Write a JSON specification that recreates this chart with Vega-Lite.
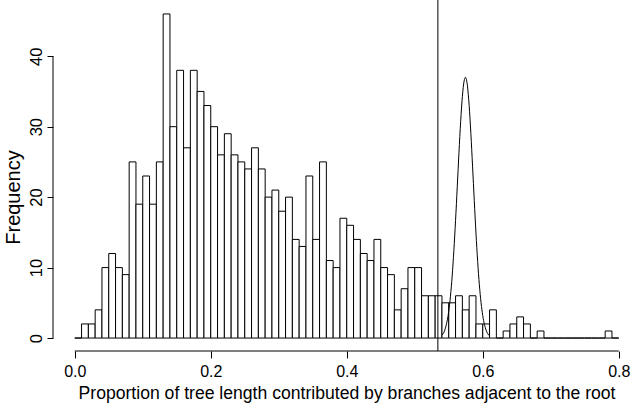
{
  "$schema": "https://vega.github.io/schema/vega-lite/v6.json",
  "width": 578,
  "height": 351,
  "autosize": "none",
  "padding": {"left": 53, "top": 0, "right": 0, "bottom": 52},
  "background": "white",
  "config": {
    "view": {"stroke": null},
    "axis": {
      "grid": false,
      "domain": false,
      "tickColor": "black",
      "tickWidth": 1,
      "labelColor": "black",
      "titleColor": "black",
      "labelFont": "Liberation Sans",
      "titleFont": "Liberation Sans",
      "titleFontWeight": "normal",
      "labelFontSize": 16,
      "titleFontSize": 17.6,
      "labelFlush": false,
      "labelOverlap": false,
      "labelBound": false
    }
  },
  "datasets": {
    "bins": [
      {"start": 0.00, "end": 0.01, "count": 0},
      {"start": 0.01, "end": 0.02, "count": 2},
      {"start": 0.02, "end": 0.03, "count": 2},
      {"start": 0.03, "end": 0.04, "count": 4},
      {"start": 0.04, "end": 0.05, "count": 10},
      {"start": 0.05, "end": 0.06, "count": 12},
      {"start": 0.06, "end": 0.07, "count": 10},
      {"start": 0.07, "end": 0.08, "count": 9},
      {"start": 0.08, "end": 0.09, "count": 25},
      {"start": 0.09, "end": 0.10, "count": 19},
      {"start": 0.10, "end": 0.11, "count": 23},
      {"start": 0.11, "end": 0.12, "count": 19},
      {"start": 0.12, "end": 0.13, "count": 25},
      {"start": 0.13, "end": 0.14, "count": 46},
      {"start": 0.14, "end": 0.15, "count": 30},
      {"start": 0.15, "end": 0.16, "count": 38},
      {"start": 0.16, "end": 0.17, "count": 27},
      {"start": 0.17, "end": 0.18, "count": 38},
      {"start": 0.18, "end": 0.19, "count": 35},
      {"start": 0.19, "end": 0.20, "count": 33},
      {"start": 0.20, "end": 0.21, "count": 30},
      {"start": 0.21, "end": 0.22, "count": 26},
      {"start": 0.22, "end": 0.23, "count": 29},
      {"start": 0.23, "end": 0.24, "count": 26},
      {"start": 0.24, "end": 0.25, "count": 25},
      {"start": 0.25, "end": 0.26, "count": 24},
      {"start": 0.26, "end": 0.27, "count": 27},
      {"start": 0.27, "end": 0.28, "count": 24},
      {"start": 0.28, "end": 0.29, "count": 20},
      {"start": 0.29, "end": 0.30, "count": 21},
      {"start": 0.30, "end": 0.31, "count": 18},
      {"start": 0.31, "end": 0.32, "count": 20},
      {"start": 0.32, "end": 0.33, "count": 14},
      {"start": 0.33, "end": 0.34, "count": 13},
      {"start": 0.34, "end": 0.35, "count": 23},
      {"start": 0.35, "end": 0.36, "count": 14},
      {"start": 0.36, "end": 0.37, "count": 25},
      {"start": 0.37, "end": 0.38, "count": 11},
      {"start": 0.38, "end": 0.39, "count": 10},
      {"start": 0.39, "end": 0.40, "count": 17},
      {"start": 0.40, "end": 0.41, "count": 16},
      {"start": 0.41, "end": 0.42, "count": 14},
      {"start": 0.42, "end": 0.43, "count": 12},
      {"start": 0.43, "end": 0.44, "count": 11},
      {"start": 0.44, "end": 0.45, "count": 14},
      {"start": 0.45, "end": 0.46, "count": 10},
      {"start": 0.46, "end": 0.47, "count": 9},
      {"start": 0.47, "end": 0.48, "count": 4},
      {"start": 0.48, "end": 0.49, "count": 7},
      {"start": 0.49, "end": 0.50, "count": 10},
      {"start": 0.50, "end": 0.51, "count": 10},
      {"start": 0.51, "end": 0.52, "count": 6},
      {"start": 0.52, "end": 0.53, "count": 6},
      {"start": 0.53, "end": 0.54, "count": 6},
      {"start": 0.54, "end": 0.55, "count": 5},
      {"start": 0.55, "end": 0.56, "count": 5},
      {"start": 0.56, "end": 0.57, "count": 6},
      {"start": 0.57, "end": 0.58, "count": 4},
      {"start": 0.58, "end": 0.59, "count": 6},
      {"start": 0.59, "end": 0.60, "count": 2},
      {"start": 0.60, "end": 0.61, "count": 2},
      {"start": 0.61, "end": 0.62, "count": 4},
      {"start": 0.62, "end": 0.63, "count": 0},
      {"start": 0.63, "end": 0.64, "count": 1},
      {"start": 0.64, "end": 0.65, "count": 2},
      {"start": 0.65, "end": 0.66, "count": 3},
      {"start": 0.66, "end": 0.67, "count": 2},
      {"start": 0.67, "end": 0.68, "count": 0},
      {"start": 0.68, "end": 0.69, "count": 1},
      {"start": 0.69, "end": 0.70, "count": 0},
      {"start": 0.70, "end": 0.71, "count": 0},
      {"start": 0.71, "end": 0.72, "count": 0},
      {"start": 0.72, "end": 0.73, "count": 0},
      {"start": 0.73, "end": 0.74, "count": 0},
      {"start": 0.74, "end": 0.75, "count": 0},
      {"start": 0.75, "end": 0.76, "count": 0},
      {"start": 0.76, "end": 0.77, "count": 0},
      {"start": 0.77, "end": 0.78, "count": 0},
      {"start": 0.78, "end": 0.79, "count": 1},
      {"start": 0.79, "end": 0.80, "count": 0}
    ],
    "curve": [
      {"x": 0.540, "y": 0.41},
      {"x": 0.545, "y": 1.38},
      {"x": 0.550, "y": 3.83},
      {"x": 0.5525, "y": 5.94},
      {"x": 0.555, "y": 8.79},
      {"x": 0.5575, "y": 12.41},
      {"x": 0.560, "y": 16.71},
      {"x": 0.5625, "y": 21.47},
      {"x": 0.565, "y": 26.30},
      {"x": 0.5675, "y": 30.74},
      {"x": 0.570, "y": 34.27},
      {"x": 0.5725, "y": 36.44},
      {"x": 0.5745, "y": 37.0},
      {"x": 0.5775, "y": 35.76},
      {"x": 0.580, "y": 33.0},
      {"x": 0.5825, "y": 29.04},
      {"x": 0.585, "y": 24.39},
      {"x": 0.5875, "y": 19.53},
      {"x": 0.590, "y": 14.92},
      {"x": 0.5925, "y": 10.87},
      {"x": 0.595, "y": 7.55},
      {"x": 0.5975, "y": 5.01},
      {"x": 0.600, "y": 3.17},
      {"x": 0.605, "y": 1.10},
      {"x": 0.610, "y": 0.32}
    ],
    "vline": [{"x": 0.534}],
    "xaxisline": [{"x": 0, "x2": 0.8, "y": -1.84}],
    "yaxisline": [{"x": -0.032, "y": 0, "y2": 40}]
  },
  "layer": [
    {
      "data": {"name": "bins"},
      "mark": {"type": "rect", "fill": "white", "stroke": "black", "strokeWidth": 1},
      "encoding": {
        "x": {
          "field": "start", "type": "quantitative",
          "scale": {"domain": [-0.032, 0.818], "nice": false, "zero": false},
          "axis": {
            "title": "Proportion of tree length contributed by branches adjacent to the root",
            "values": [0, 0.2, 0.4, 0.6, 0.8],
            "format": ".1f",
            "tickSize": 7,
            "labelPadding": 5,
            "titleX": 293.5,
            "titleY": 47.5,
            "titleAlign": "center",
            "titleBaseline": "alphabetic"
          }
        },
        "x2": {"field": "end"},
        "y": {
          "field": "count", "type": "quantitative",
          "scale": {"domain": [-1.84, 47.98], "nice": false, "zero": false},
          "axis": {
            "title": "Frequency",
            "titleFontSize": 20,
            "labelFontSize": 16.5,
            "values": [0, 10, 20, 30, 40],
            "tickSize": 6,
            "labelAngle": -90,
            "labelAlign": "center",
            "labelBaseline": "alphabetic",
            "labelPadding": 5.5,
            "titleX": -34,
            "titleY": 197,
            "titleAngle": -90,
            "titleAlign": "center",
            "titleBaseline": "alphabetic"
          }
        },
        "y2": {"datum": 0}
      }
    },
    {
      "data": {"name": "curve"},
      "mark": {"type": "line", "stroke": "black", "strokeWidth": 1, "interpolate": "monotone"},
      "encoding": {
        "x": {"field": "x", "type": "quantitative"},
        "y": {"field": "y", "type": "quantitative"}
      }
    },
    {
      "data": {"name": "vline"},
      "mark": {"type": "rule", "stroke": "black", "strokeWidth": 1},
      "encoding": {
        "x": {"field": "x", "type": "quantitative"}
      }
    },
    {
      "data": {"name": "xaxisline"},
      "mark": {"type": "rule", "stroke": "black", "strokeWidth": 1},
      "encoding": {
        "x": {"field": "x", "type": "quantitative"},
        "x2": {"field": "x2"},
        "y": {"field": "y", "type": "quantitative"}
      }
    },
    {
      "data": {"name": "yaxisline"},
      "mark": {"type": "rule", "stroke": "black", "strokeWidth": 1},
      "encoding": {
        "x": {"field": "x", "type": "quantitative"},
        "y": {"field": "y", "type": "quantitative"},
        "y2": {"field": "y2"}
      }
    }
  ]
}
